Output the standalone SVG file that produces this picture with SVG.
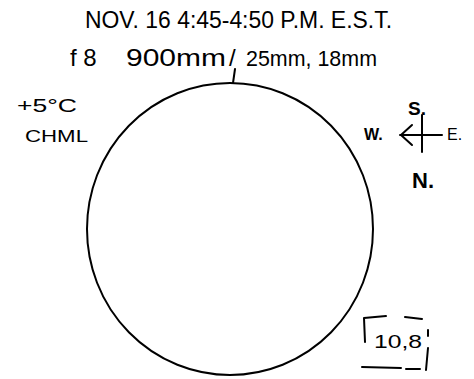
<svg xmlns="http://www.w3.org/2000/svg" width="474" height="379" viewBox="0 0 474 379">
<style>
.t{font-family:"Liberation Sans","DejaVu Sans",sans-serif;fill:#000}
.s{fill:none;stroke:#000;stroke-width:2;stroke-linecap:round;stroke-linejoin:round}
</style>
<rect width="474" height="379" fill="#fff"/>
<g id="header">
<text class="t" x="85" y="28" font-size="23" textLength="307" lengthAdjust="spacingAndGlyphs">NOV. 16  4:45-4:50 P.M. E.S.T.</text>
<text class="t" x="70" y="66" font-size="24">f 8</text>
<text class="t" x="126" y="66" font-size="23" textLength="100" lengthAdjust="spacingAndGlyphs">900mm</text>
<text class="t" x="229" y="66" font-size="24">/</text>
<text class="t" x="246" y="66" font-size="22" textLength="131" lengthAdjust="spacingAndGlyphs">25mm, 18mm</text>
</g>
<g id="temp">
<text class="t" x="17" y="112" font-size="19" textLength="60" lengthAdjust="spacingAndGlyphs">+5°C</text>
<text class="t" x="25" y="142" font-size="17" textLength="63" lengthAdjust="spacingAndGlyphs">CHML</text>
</g>
<g id="disk">
<ellipse class="s" cx="230" cy="229" rx="143" ry="146"/>
<line class="s" x1="233" y1="83" x2="235" y2="69"/>
</g>
<g id="compass">
<text class="t" x="408" y="115" font-size="19" font-weight="bold">S.</text>
<text class="t" x="364" y="140" font-size="16" font-weight="bold">W.</text>
<text class="t" x="447" y="140" font-size="16">E.</text>
<text class="t" x="412" y="188" font-size="22" font-weight="bold">N.</text>
<line class="s" x1="422" y1="115" x2="422" y2="152"/>
<line class="s" x1="400" y1="135" x2="442" y2="135"/>
<polyline class="s" points="412,125 401,135 412,145"/>
</g>
<g id="label">
<path class="s" stroke-width="1.6" d="M365,342 L364,318 L386,316 M405,317 L422,319 M428,330 L428,336 M428,348 L426,370 M420,369 L406,369 M401,368 L362,367"/>
<text class="t" x="374" y="348" font-size="19" textLength="48" lengthAdjust="spacingAndGlyphs">10,8</text>
</g>
</svg>
